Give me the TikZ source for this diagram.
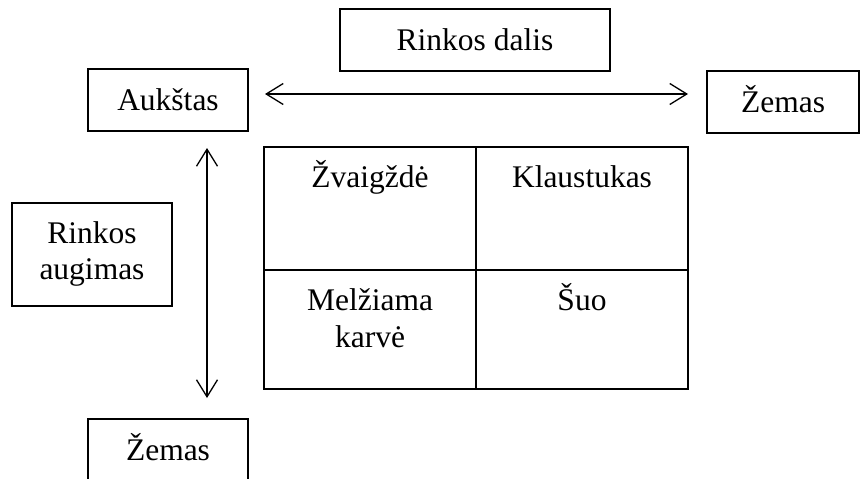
\documentclass[tikz,border=0pt]{standalone}
\usepackage{fontspec}
\setmainfont{Liberation Serif}
\usetikzlibrary{arrows.meta}
\begin{document}
\begin{tikzpicture}[x=1pt,y=-1pt,
  box/.style={draw,line width=1.3pt,rectangle,inner sep=0pt},
  lbl/.style={anchor=base,inner sep=0pt,font=\fontsize{31.5}{37}\selectfont},
  dblarrow/.style={line width=1.3pt,{Straight Barb[length=17pt,width=21pt,line width=1.3pt]}-{Straight Barb[length=17pt,width=21pt,line width=1.3pt]}}]
\useasboundingbox (0,0) rectangle (860,479);
\clip (0,0) rectangle (860,479);
\fill[white] (0,0) rectangle (860,479);

% axis title boxes
\node[box,minimum width=270pt,minimum height=62pt] (share) at (475,40) {};
\node[lbl] (shareT) at (475,50) {Rinkos dalis};

\node[box,minimum width=160pt,minimum height=62pt] (high) at (168,100) {};
\node[lbl] (highT) at (168,110) {Aukštas};

\node[box,minimum width=152pt,minimum height=62pt] (lowR) at (783,102) {};
\node[lbl] (lowRT) at (783,112) {Žemas};

\node[box,minimum width=160pt,minimum height=103pt] (growth) at (92,254.5) {};
\node[lbl] (growthT1) at (92,243) {Rinkos};
\node[lbl] (growthT2) at (92,279) {augimas};

\node[box,minimum width=160pt,minimum height=90pt] (lowB) at (168,464) {};
\node[lbl] (lowBT) at (168,460) {Žemas};

% the 2x2 matrix
\node[box,minimum width=212pt,minimum height=123pt] (c11) at (370,208.5) {};
\node[box,minimum width=212pt,minimum height=123pt] (c12) at (582,208.5) {};
\node[box,minimum width=212pt,minimum height=119pt] (c21) at (370,329.5) {};
\node[box,minimum width=212pt,minimum height=119pt] (c22) at (582,329.5) {};
\node[lbl] (t11) at (370,187) {Žvaigždė};
\node[lbl] (t12) at (582,187) {Klaustukas};
\node[lbl] (t21a) at (370,310) {Melžiama};
\node[lbl] (t21b) at (370,347) {karvė};
\node[lbl] (t22) at (582,310) {Šuo};

% axis arrows
\coordinate (hL) at (265,94);
\coordinate (hR) at (688,94);
\coordinate (vT) at (207,148);
\coordinate (vB) at (207,398);
\draw[dblarrow] (hL) -- (hR);
\draw[dblarrow] (vT) -- (vB);
\end{tikzpicture}
\end{document}
